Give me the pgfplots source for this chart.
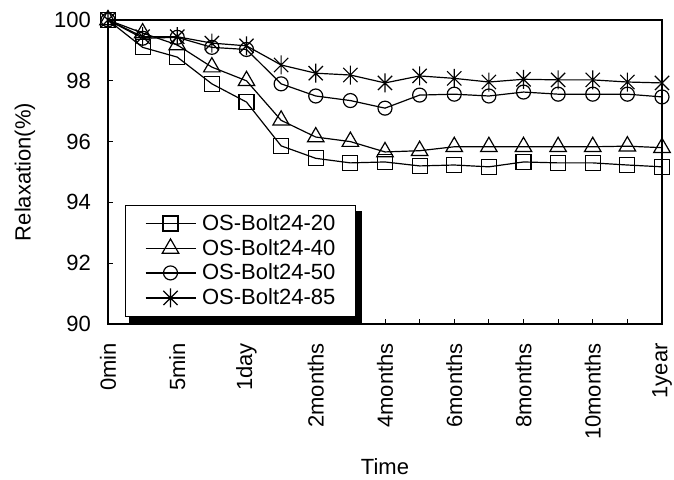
\documentclass[border=0pt]{standalone}
\usepackage{pgfplots}
\pgfplotsset{compat=1.18}
\usepackage{fontspec}
\setmainfont{Liberation Sans}

% excel-like star: vertical bar plus an x
\pgfdeclareplotmark{xstar}{%
  \pgfpathmoveto{\pgfqpoint{0pt}{\pgfplotmarksize}}%
  \pgfpathlineto{\pgfqpoint{0pt}{-\pgfplotmarksize}}%
  \pgfpathmoveto{\pgfqpoint{-0.75\pgfplotmarksize}{0.75\pgfplotmarksize}}%
  \pgfpathlineto{\pgfqpoint{0.75\pgfplotmarksize}{-0.75\pgfplotmarksize}}%
  \pgfpathmoveto{\pgfqpoint{-0.75\pgfplotmarksize}{-0.75\pgfplotmarksize}}%
  \pgfpathlineto{\pgfqpoint{0.75\pgfplotmarksize}{0.75\pgfplotmarksize}}%
  \pgfusepathqstroke}

\newcommand\bigfont{\fontsize{22}{24}\selectfont}

\begin{document}
\begin{tikzpicture}
\begin{axis}[
    at={(0pt,0pt)}, anchor=south west,
    scale only axis,
    width=554pt, height=304pt,
    xmin=0, xmax=16,
    ymin=90, ymax=100,
    ytick={90,92,...,100},
    xtick={0,...,16},
    xticklabels={0min,,5min,,1day,,2months,,4months,,6months,,8months,,10months,,1year},
    tick align=inside,
    tick pos=left,
    major tick length=5pt,
    tick style={line width=1pt, black},
    axis line style={line width=1.2pt},
    every tick label/.append style={inner sep=0pt, font=\bigfont},
    label style={font=\bigfont},
    /pgf/number format/assume math mode=true,
    yticklabel shift=17pt,
    xticklabel shift=19pt,
    xticklabel style={rotate=90, anchor=east},
    ylabel={Relaxation(\%)},
    xlabel={Time},
    ylabel style={at={(axis description cs:-0.1498,0.5)}, anchor=center},
    xlabel style={at={(axis description cs:0.5,-0.470)}, anchor=center},
    clip=false,
    legend cell align=left,
    legend style={at={(axis description cs:0.0307,0.3914)}, anchor=north west,
      name=leg, draw=black, line width=0.8pt, fill=white, font=\bigfont,
      inner xsep=19.5pt, inner ysep=9pt,
      nodes={inner sep=1pt, text height=15pt, text depth=1pt},
      row sep=6.5pt, column sep=5pt},
    legend image code/.code={%
      \draw[mark repeat=2, mark phase=2] plot coordinates {(0pt,0pt) (25pt,0pt) (50pt,0pt)};},
    every axis plot/.append style={black, line width=1.2pt, mark options={solid, fill=none}},
  ]

  % OS-Bolt24-20
  \addplot[mark=square, mark size=7.5pt] coordinates {
    (0,100) (1,99.1) (2,98.78) (3,97.9) (4,97.3) (5,95.86) (6,95.45) (7,95.3)
    (8,95.33) (9,95.2) (10,95.23) (11,95.17) (12,95.33) (13,95.3) (14,95.3)
    (15,95.23) (16,95.17)};
  \addlegendentry{OS-Bolt24-20}

  % OS-Bolt24-40
  \addplot[mark=triangle, mark size=9.5pt] coordinates {
    (0,100) (1,99.57) (2,99.18) (3,98.45) (4,98.0) (5,96.7) (6,96.15) (7,96.0)
    (8,95.66) (9,95.7) (10,95.83) (11,95.83) (12,95.83) (13,95.83) (14,95.83)
    (15,95.85) (16,95.8)};
  \addlegendentry{OS-Bolt24-40}

  % OS-Bolt24-50
  \addplot[mark=o, mark size=7pt] coordinates {
    (0,100) (1,99.4) (2,99.43) (3,99.1) (4,99.03) (5,97.9) (6,97.5) (7,97.35)
    (8,97.1) (9,97.53) (10,97.56) (11,97.5) (12,97.63) (13,97.56) (14,97.56)
    (15,97.56) (16,97.47)};
  \addlegendentry{OS-Bolt24-50}

  % OS-Bolt24-85
  \addplot[mark=xstar, mark size=9.5pt] coordinates {
    (0,100) (1,99.45) (2,99.45) (3,99.24) (4,99.15) (5,98.52) (6,98.25) (7,98.19)
    (8,97.93) (9,98.16) (10,98.08) (11,97.96) (12,98.05) (13,98.03) (14,98.03)
    (15,97.96) (16,97.93)};
  \addlegendentry{OS-Bolt24-85}

\end{axis}
% legend shadow, drawn as two strips outside the box
\fill[black] ([yshift=-6pt]leg.north east) rectangle ([xshift=6pt,yshift=-6pt]leg.south east);
\fill[black] ([xshift=4pt]leg.south west) rectangle ([xshift=6pt,yshift=-6pt]leg.south east);
\pgfresetboundingbox
\useasboundingbox (-108pt,-155pt) rectangle (566pt,324pt);
\end{tikzpicture}
\end{document}
